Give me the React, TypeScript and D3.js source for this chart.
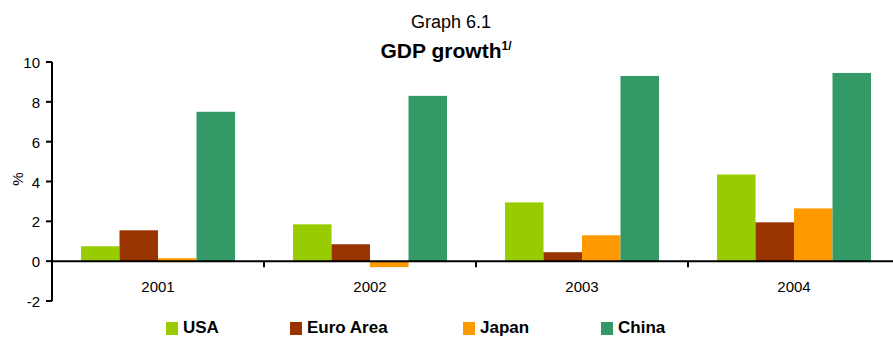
import React from "react";
import * as d3 from "d3";

const years = ["2001", "2002", "2003", "2004"];
const seriesNames = ["USA", "Euro Area", "Japan", "China"];
const usa = [0.75, 1.85, 2.95, 4.35];
const euro = [1.55, 0.85, 0.45, 1.95];
const japan = [0.15, -0.3, 1.3, 2.65];
const china = [7.5, 8.3, 9.3, 9.45];
const colors = ["#99CC00", "#993300", "#FF9900", "#339966"];
const yTicks = [-2, 0, 2, 4, 6, 8, 10];

export default function App() {
  const W = 893, H = 337;
  const values = [usa, euro, japan, china];
  const x0 = d3.scaleBand().domain(years).range([52, 900]).paddingInner(0).paddingOuter(0);
  const inner = d3.scaleBand().domain(seriesNames).range([29, 212 - 29]).padding(0);
  const y = d3.scaleLinear().domain([-2, 10]).range([301, 62]);
  const font = "'Liberation Sans', Arial, sans-serif";
  const legendX = [166, 290, 463, 601];
  return (
    <svg width={W} height={H} style={{ position: "absolute", left: 0, top: 0 }} fontFamily={font}>
      <text x={451} y={28} textAnchor="middle" fontSize={18}>Graph 6.1</text>
      <text x={446} y={58} textAnchor="middle" fontSize={21} fontWeight="bold">
        GDP growth<tspan fontSize={12} dy={-8}>1/</tspan>
      </text>
      {values.map((arr, si) =>
        arr.map((v, i) => {
          const xs = (x0(years[i]) as number) + (inner(seriesNames[si]) as number);
          return (
            <rect key={si + "-" + i} x={xs} width={inner.bandwidth()} y={y(Math.max(0, v))}
              height={Math.abs(y(v) - y(0))} fill={colors[si]} />
          );
        })
      )}
      <line x1={52} x2={900} y1={y(0)} y2={y(0)} stroke="#000" strokeWidth={2} />
      {years.map((yr, i) => i > 0 ? (
        <line key={yr} x1={x0(yr)} x2={x0(yr)} y1={y(0)} y2={y(0) + 6} stroke="#000" strokeWidth={2} />
      ) : null)}
      <line x1={52} x2={52} y1={y(10)} y2={y(-2)} stroke="#000" strokeWidth={2} />
      {yTicks.map(t => (
        <g key={t}>
          <line x1={46} x2={52} y1={y(t)} y2={y(t)} stroke="#000" strokeWidth={2} />
          <text x={40} y={y(t) + 6} textAnchor="end" fontSize={15}>{t}</text>
        </g>
      ))}
      <text transform={`translate(23,179) rotate(-90)`} textAnchor="middle" fontSize={15}>%</text>
      {years.map(yr => (
        <text key={yr} x={(x0(yr) as number) + x0.bandwidth() / 2} y={292} textAnchor="middle" fontSize={15}>{yr}</text>
      ))}
      {seriesNames.map((s, i) => (
        <g key={s}>
          <rect x={legendX[i]} y={322} width={12} height={13} fill={colors[i]} />
          <text x={legendX[i] + 17} y={333} fontSize={17} fontWeight="bold">{s}</text>
        </g>
      ))}
    </svg>
  );
}
